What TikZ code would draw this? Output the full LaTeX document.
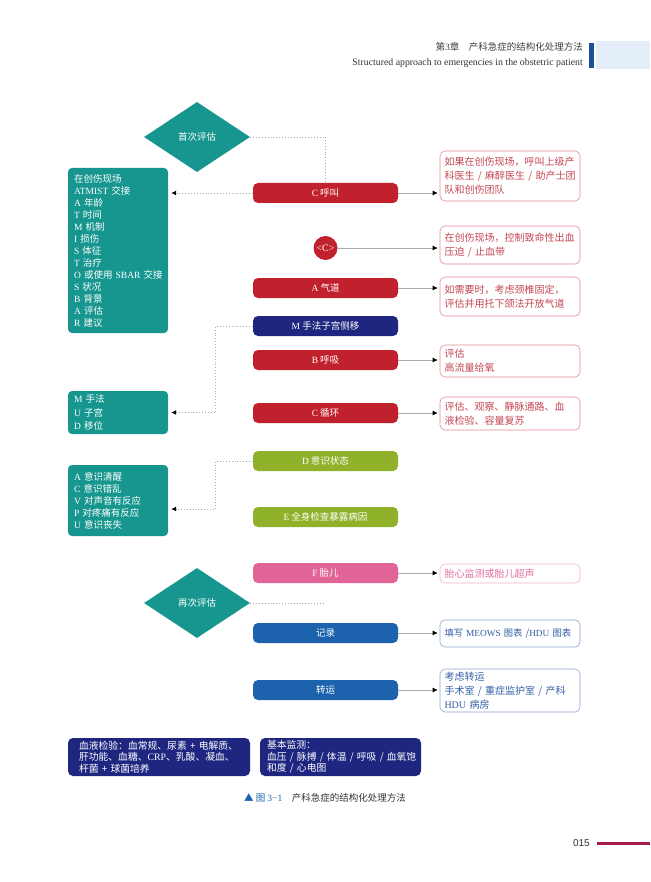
\documentclass[tikz,border=0pt]{standalone}
\usepackage{fontspec}
\setmainfont{Noto Sans CJK SC}
\newfontfamily\latinfont{Liberation Serif}
\newfontfamily\pagefont{Liberation Sans}
\newcommand{\lat}[1]{{\latinfont #1}}
\usetikzlibrary{shapes.geometric, arrows.meta, backgrounds}

\definecolor{callred}{RGB}{193,32,45}
\definecolor{mnavy}{RGB}{30,38,128}
\definecolor{dolive}{RGB}{143,178,42}
\definecolor{fpink}{RGB}{225,100,150}
\definecolor{rblue}{RGB}{28,98,172}
\definecolor{infoteal}{RGB}{22,150,142}
\definecolor{redline}{RGB}{226,140,148}
\definecolor{redtext}{RGB}{196,70,82}
\definecolor{pinkline}{RGB}{240,180,205}
\definecolor{pinktext}{RGB}{228,110,160}
\definecolor{blueline}{RGB}{140,165,205}
\definecolor{bluetext}{RGB}{50,95,165}
\definecolor{spinegrey}{RGB}{170,170,170}
\definecolor{headblue}{RGB}{26,80,150}
\definecolor{headpale}{RGB}{228,238,248}
\definecolor{pagered}{RGB}{165,30,75}

\begin{document}
\begin{tikzpicture}[x=1pt, y=-1pt,
    mainbox/.style={rounded corners=5pt, minimum width=145pt, minimum height=20pt,
        inner sep=0pt, text=white, font=\fontsize{9.5}{11}\selectfont},
    sidebox/.style={draw, rounded corners=5pt, line width=0.6pt, text width=131pt,
        inner xsep=4.5pt, inner ysep=2pt, align=left, font=\fontsize{10}{14}\selectfont},
    redside/.style={sidebox, draw=redline, text=redtext},
    pinkside/.style={sidebox, draw=pinkline, text=pinktext},
    blueside/.style={sidebox, draw=blueline, text=bluetext},
    tealbox/.style={fill=infoteal, rounded corners=4pt, text=white, text width=88pt,
        inner xsep=6pt, inner ysep=2pt, align=left, font=\fontsize{9.5}{12}\selectfont},
    navybox/.style={fill=mnavy, rounded corners=5pt, text=white, inner xsep=7pt,
        inner ysep=2pt, align=left, minimum height=38pt, font=\fontsize{9.8}{11.5}\selectfont},
    assess/.style={diamond, fill=infoteal, aspect=1.5, inner sep=0pt,
        minimum width=106pt, minimum height=70pt, text=white, font=\fontsize{9.5}{11}\selectfont},
    arrowline/.style={draw=spinegrey, line width=0.7pt, shorten >=2pt,
        -{Latex[length=5pt, width=5pt, color=black]}},
    dotline/.style={draw=spinegrey, line width=0.9pt, dotted},
    dotarrow/.style={dotline, shorten >=3pt, -{Latex[length=5pt, width=5pt, color=black]}}
]
    \fill[white] (0,0) rectangle (650,882);
    \useasboundingbox (0,0) rectangle (650,882);

    % Page header
    \fill[headpale] (596,41) rectangle (650,69);
    \fill[headblue] (589,43) rectangle (594,68);
    \node[anchor=east, inner sep=0pt, text=black!75, font=\fontsize{9.5}{11}\selectfont]
        (chaptitle) at (583,47) {第\lat{3}章\quad 产科急症的结构化处理方法};
    \node[anchor=east, inner sep=0pt, text=black!80, font=\latinfont\fontsize{9.8}{11}\selectfont]
        (chapsub) at (583,63) {Structured approach to emergencies in the obstetric patient};

    % Primary steps along the spine
    \node[assess] (firstcheck) at (197,137) {首次评估};
    \node[mainbox, fill=callred] (call) at (325.5,193) {\lat{C} 呼叫};
    \node[circle, fill=callred, minimum size=24pt, inner sep=0pt, text=white,
        font=\latinfont\fontsize{10}{11}\selectfont] (bleed) at (325.5,248) {<C>};
    \node[mainbox, fill=callred] (airway) at (325.5,288) {\lat{A} 气道};
    \node[mainbox, fill=mnavy] (uterus) at (325.5,326) {\lat{M} 手法子宫侧移};
    \node[mainbox, fill=callred] (breath) at (325.5,360) {\lat{B} 呼吸};
    \node[mainbox, fill=callred] (circul) at (325.5,413) {\lat{C} 循环};
    \node[mainbox, fill=dolive] (disab) at (325.5,461) {\lat{D} 意识状态};
    \node[mainbox, fill=dolive] (expose) at (325.5,517) {\lat{E} 全身检查暴露病因};
    \node[mainbox, fill=fpink] (fetus) at (325.5,573) {\lat{F} 胎儿};
    \node[assess] (secondcheck) at (197,603) {再次评估};
    \node[mainbox, fill=rblue] (record) at (325.5,633) {记录};
    \node[mainbox, fill=rblue] (transfer) at (325.5,690) {转运};

    \begin{pgfonlayer}{background}
        \draw[spinegrey, line width=1pt] (call.center) -- (transfer.center);
    \end{pgfonlayer}

    % Notes on the right
    \node[redside, minimum height=50pt] (callnote) at (510,176)
        {如果在创伤现场，呼叫上级产\\科医生~/~麻醉医生~/~助产士团\\队和创伤团队};
    \node[redside, minimum height=38pt] (bleednote) at (510,245)
        {在创伤现场，控制致命性出血\\压迫~/~止血带};
    \node[redside, minimum height=39pt] (airwaynote) at (510,296.5)
        {如需要时，考虑颈椎固定，\\评估并用托下颌法开放气道};
    \node[redside, minimum height=32pt] (breathnote) at (510,361)
        {评估\\高流量给氧};
    \node[redside, minimum height=33pt] (circulnote) at (510,413.5)
        {评估、观察、静脉通路、血\\液检验、容量复苏};
    \node[pinkside, minimum height=19pt] (fetusnote) at (510,573.5)
        {胎心监测或胎儿超声};
    \node[blueside, minimum height=27pt, font=\fontsize{9.3}{14}\selectfont] (recordnote) at (510,633.5)
        {\mbox{填写 \lat{MEOWS} 图表 /\lat{HDU} 图表}};
    \node[blueside, minimum height=43pt] (transfernote) at (510,690.5)
        {考虑转运\\手术室~/~重症监护室~/~产科\\\lat{HDU}~病房};

    % Mnemonics on the left
    \node[tealbox, minimum height=165pt] (atmist) at (118,250.5)
        {在创伤现场\\\lat{ATMIST}~交接\\\lat{A}~年龄\\\lat{T}~时间\\\lat{M}~机制\\\lat{I}~损伤\\
         \lat{S}~体征\\\lat{T}~治疗\\\lat{O}~或使用~\lat{SBAR}~交接\\\lat{S}~状况\\\lat{B}~背景\\
         \lat{A}~评估\\\lat{R}~建议};
    \node[tealbox, minimum height=43pt, font=\fontsize{9.5}{13.5}\selectfont] (mud) at (118,412.5)
        {\lat{M}~手法\\\lat{U}~子宫\\\lat{D}~移位};
    \node[tealbox, minimum height=71pt] (acvpu) at (118,500.5)
        {\lat{A}~意识清醒\\\lat{C}~意识错乱\\\lat{V}~对声音有反应\\\lat{P}~对疼痛有反应\\\lat{U}~意识丧失};

    % Connectors
    \draw[dotline] (firstcheck.east) -| (call.north);
    \draw[dotline] (secondcheck.east) -- (secondcheck.east -| record.north);
    \draw[dotarrow] (call.west) -- (call.west -| atmist.east);
    \draw[dotarrow] (uterus.west) -- ++(-37,0) |- (mud.east);
    \draw[dotarrow] (disab.west) -- ++(-37,0) |- ([yshift=-8.5pt]acvpu.east);

    \draw[arrowline] (call.east) -- (call.east -| callnote.west);
    \draw[arrowline] (bleed.east) -- (bleed.east -| bleednote.west);
    \draw[arrowline] (airway.east) -- (airway.east -| airwaynote.west);
    \draw[arrowline] (breath.east) -- (breath.east -| breathnote.west);
    \draw[arrowline] (circul.east) -- (circul.east -| circulnote.west);
    \draw[arrowline] (fetus.east) -- (fetus.east -| fetusnote.west);
    \draw[arrowline] (record.east) -- (record.east -| recordnote.west);
    \draw[arrowline] (transfer.east) -- (transfer.east -| transfernote.west);

    % Bottom panels
    \node[navybox, minimum width=182pt, text width=160pt, inner xsep=11pt] (bloodtest) at (159,757)
        {血液检验：血常规、尿素~+~电解质、\\肝功能、血糖、\lat{CRP}、乳酸、凝血、\\杆菌~+~球菌培养};
    \node[navybox, minimum width=161pt, text width=147pt] (monitor) at (340.5,757)
        {基本监测：\\血压~/~脉搏~/~体温~/~呼吸~/~血氧饱\\和度~/~心电图};

    % Caption and page number
    \node[inner sep=0pt, text=black!80, font=\fontsize{9.5}{11}\selectfont] (caption) at (325,798)
        {\textcolor{rblue}{▲ 图 \lat{3−1}}\quad 产科急症的结构化处理方法};
    \node[anchor=east, inner sep=0pt, text=black!80, font=\pagefont\fontsize{10}{12}\selectfont]
        (pageno) at (590,843) {015};
    \draw[pagered, line width=3pt] (597,843) -- (650,843);
\end{tikzpicture}
\end{document}
